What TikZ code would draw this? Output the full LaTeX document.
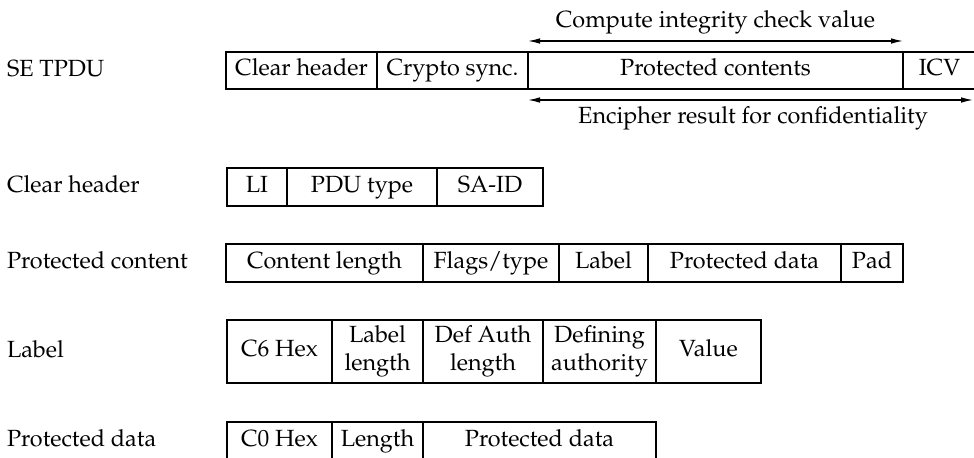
\documentclass[tikz,border=0pt]{standalone}
\usepackage[T1]{fontenc}
\usepackage{mathpazo}
\usetikzlibrary{arrows.meta}

\tikzset{
  every node/.style={font=\fontsize{11.7}{13.8}\selectfont, inner sep=0pt, outer sep=0pt},
  field/.style={draw, line width=.9pt, text height=1.55ex, text depth=.45ex},
  field2/.style={draw, line width=.9pt, align=center},
  rowname/.style={anchor=west, text height=1.55ex, text depth=.45ex},
  dimtext/.style={text height=1.55ex, text depth=.45ex},
  dimline/.style={line width=.65pt, {Latex[length=6pt,width=2.8pt]}-{Latex[length=6pt,width=2.8pt]}}
}

\begin{document}
\begin{tikzpicture}[x=0.5pt,y=-0.5pt]
\useasboundingbox (0,0) rectangle (974,457);

\node[rowname] (nse) at (7,71) {SE TPDU};
\node[rowname] (nclr) at (7,187) {Clear header};
\node[rowname] (npc) at (7,263) {Protected content};
\node[rowname] (nlab) at (7,352) {Label};
\node[rowname] (npd) at (7,441) {Protected data};

\node[field, minimum width=75.5pt, minimum height=18.5pt] (tclr) at (301.5,70.5) {Clear header};
\node[field, minimum width=75.5pt, minimum height=18.5pt] (tsync) at (452.5,70.5) {Crypto sync.};
\node[field, minimum width=187.5pt, minimum height=18.5pt] (tprot) at (715.5,70.5) {Protected contents};
\node[field, minimum width=36.5pt, minimum height=18.5pt] (ticv) at (939.5,70.5) {ICV};

\coordinate (encend) at (973,100);
\draw[dimline] ([yshift=5.5pt]tprot.north west) -- ([yshift=5.5pt]tprot.north east);
\draw[dimline] ([yshift=-5.5pt]tprot.south west) -- (encend);
\node[dimtext] (icvtxt) at (715.5,22) {Compute integrity check value};
\node[dimtext] (enctxt) at (753,118) {Encipher result for confidentiality};

\node[field, minimum width=30pt, minimum height=19pt] (hli) at (257,187) {LI};
\node[field, minimum width=75pt, minimum height=19pt] (hpdu) at (362,187) {PDU type};
\node[field, minimum width=53pt, minimum height=19pt] (hsa) at (490,187) {SA-ID};

\node[field, minimum width=98.5pt, minimum height=19pt] (clen) at (324.5,263) {Content length};
\node[field, minimum width=68pt, minimum height=19pt] (cflag) at (491,263) {Flags/type};
\node[field, minimum width=44.5pt, minimum height=19pt] (clab) at (603.5,263) {Label};
\node[field, minimum width=96.5pt, minimum height=19pt] (cdata) at (744.5,263) {Protected data};
\node[field, minimum width=31pt, minimum height=19pt] (cpad) at (872,263) {Pad};

\node[field, minimum width=52.5pt, minimum height=31.5pt] (lhex) at (279.5,351.5) {C6 Hex};
\node[field2, minimum width=45.5pt, minimum height=31.5pt] (llen) at (377.5,351.5) {Label\\length};
\node[field2, minimum width=60pt, minimum height=31.5pt] (ldal) at (483,351.5) {Def Auth\\length};
\node[field2, minimum width=56.5pt, minimum height=31.5pt] (lda) at (599.5,351.5) {Defining\\authority};
\node[field, minimum width=52.5pt, minimum height=31.5pt] (lval) at (708.5,351.5) {Value};

\node[field, minimum width=52.5pt, minimum height=19pt] (dhex) at (279.5,441) {C0 Hex};
\node[field, minimum width=45.5pt, minimum height=19pt] (dlen) at (377.5,441) {Length};
\node[field, minimum width=116.5pt, minimum height=19pt] (ddata) at (539.5,441) {Protected data};
\end{tikzpicture}
\end{document}
